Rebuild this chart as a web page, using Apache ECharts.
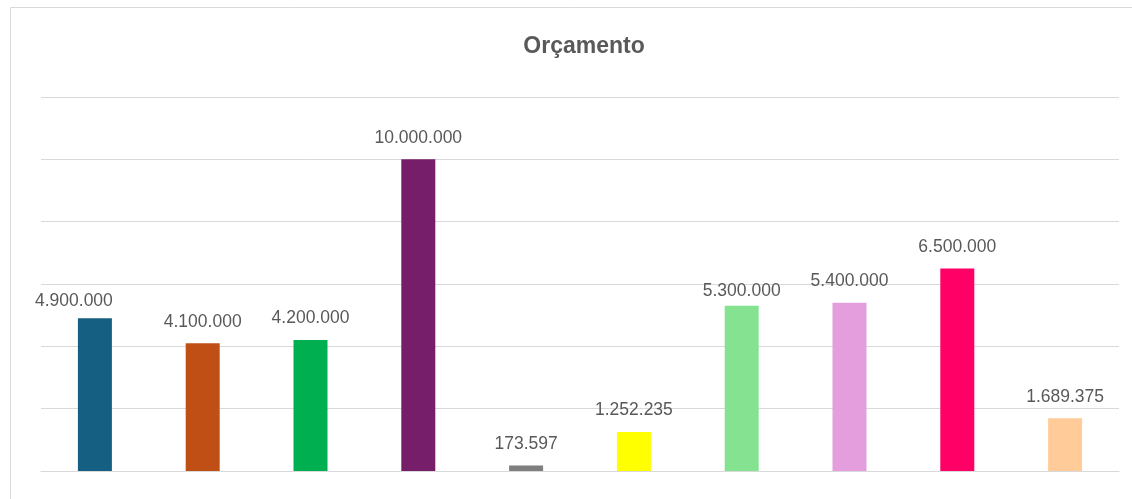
<!DOCTYPE html>
<html>
<head>
<meta charset="utf-8">
<script src="https://cdn.jsdelivr.net/npm/echarts@6/dist/echarts.min.js"></script>
<style>
html,body{margin:0;padding:0;background:#fff;}
#chart{width:1132px;height:499px;}
</style>
</head>
<body>
<div id="chart"></div>
<script>
const categories = ['A','B','C','D','E','F','G','H','I','J'];
const values = [4900000, 4100000, 4200000, 10000000, 173597, 1252235, 5300000, 5400000, 6500000, 1689375];
const colors = ['#156082','#C04F15','#00B050','#761E6A','#7F7F7F','#FFFF00','#84E291','#E49EDD','#FF0066','#FFCC99'];
const titleText = 'Orçamento';

function fmt(v){ return String(Math.round(v)).replace(/\B(?=(\d{3})+(?!\d))/g, '.'); }

// manual label nudges seen in the reference (pixels)
const labelOffsets = {0:[-21,4.5], 6:[0,6.5]};

const chart = echarts.init(document.getElementById('chart'));
chart.setOption({
  animation:false,
  title:{text:titleText,left:579,top:30,textAlign:'center',
    textStyle:{fontFamily:'Liberation Sans',fontSize:23,fontWeight:'bold',color:'#595959'}},
  graphic:[{type:'rect',shape:{x:10.5,y:7.5,width:1300,height:700},style:{fill:'none',stroke:'#d9d9d9',lineWidth:1},silent:true}],
  grid:{left:41,right:13,top:97,bottom:28},
  xAxis:{type:'category',data:categories,axisLabel:{show:false},axisTick:{show:false},
    axisLine:{lineStyle:{color:'#d9d9d9',width:1}}},
  yAxis:{type:'value',min:0,max:12000000,interval:2000000,axisLabel:{show:false},axisLine:{show:false},axisTick:{show:false},
    splitLine:{lineStyle:{color:'#d9d9d9',width:1}}},
  series:[{type:'bar',barWidth:34,
    data:values.map((v,i)=>{
      const d={value:v,itemStyle:{color:colors[i]}};
      if(labelOffsets[i]) d.label={offset:labelOffsets[i]};
      return d;
    }),
    label:{show:true,position:'top',distance:12.5,formatter:p=>fmt(p.value),
      fontFamily:'Liberation Sans',fontSize:17.5,color:'#595959'}}]
});
</script>
</body>
</html>
